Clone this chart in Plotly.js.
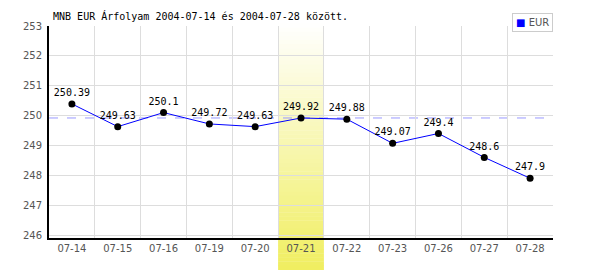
<!DOCTYPE html>
<html><head><meta charset="utf-8">
<script src="https://cdn.plot.ly/plotly-3.0.1.min.js"></script>
<style>html,body{margin:0;padding:0;background:#fff}#chart{width:600px;height:270px}</style>
</head><body><div id="chart"></div>
<script>
const dates = ['07-14','07-15','07-16','07-19','07-20','07-21','07-22','07-23','07-26','07-27','07-28'];
const eur = [250.39, 249.63, 250.1, 249.72, 249.63, 249.92, 249.88, 249.07, 249.4, 248.6, 247.9];
const labels = ['250.39','249.63','250.1','249.72','249.63','249.92','249.88','249.07','249.4','248.6','247.9'];
const highlightDate = '07-21';
const seriesName = 'EUR';
const titleText = 'MNB EUR Árfolyam 2004-07-14 és 2004-07-28 között.';

const hi = dates.indexOf(highlightDate);
const W = 600, H = 270, mL = 49, mR = 47, mT = 26, mB = 32;
const plotH = H - mT - mB;
// gradient band (white -> yellow), built from strips
const shapes = [];
const topPix = 24, botPix = 270, N = 60;
const c0 = [255,255,255], c1 = [240,238,96];
for (let i = 0; i < N; i++) {
  const p0 = topPix + (botPix - topPix) * i / N;
  const p1 = topPix + (botPix - topPix) * (i + 1) / N;
  const f = (i + 0.5) / N;
  const col = 'rgb(' + c0.map((v, k) => Math.round(v + (c1[k] - v) * f)).join(',') + ')';
  const y0 = (H - mB - p1) / plotH, y1 = (H - mB - p0) / plotH;
  const inside = y1 > 0;
  shapes.push({type:'rect', xref:'x', yref:'paper', x0: hi - 0.5, x1: hi + 0.5,
    y0: y0, y1: y1 + 0.002, fillcolor: col, line:{width:0},
    layer: inside ? 'between' : 'below'});
}
shapes.push({type:'line', xref:'paper', yref:'y', x0:0, x1:1, y0:eur[hi], y1:eur[hi],
  line:{color:'#9999ff', width:1, dash:'dash'}, layer:'between'});

const data = [
  {x: dates, y: eur, type:'scatter', mode:'lines+markers+text', text: labels, name: seriesName,
   textposition:'top center', textfont:{family:'DejaVu Sans Mono', size:10, color:'#000'},
   line:{color:'#0000ff', width:1}, marker:{color:'#000', size:7}, showlegend:false,
   hoverinfo:'skip', cliponaxis:false}
];

const layout = {
  width: W, height: H,
  margin:{l:mL, r:mR, t:mT, b:mB, pad:0},
  paper_bgcolor:'#fff', plot_bgcolor:'rgba(0,0,0,0)',
  title:{text: titleText, font:{family:'DejaVu Sans Mono', size:10, color:'#000'},
    xref:'paper', x:0.008, xanchor:'left', yref:'container', y:1-16/270, yanchor:'middle'},
  xaxis:{type:'category', tickson:'boundaries', showgrid:true, gridcolor:'#dddddd', gridwidth:1,
    showline:true, linecolor:'#000', linewidth:1.5, ticks:'', range:[-0.5, 10.5],
    tickfont:{family:'DejaVu Sans', size:10, color:'#555'}, zeroline:false, fixedrange:true},
  yaxis:{range:[245.9, 253], dtick:1, tick0:246, showgrid:true, gridcolor:'#dddddd', gridwidth:1,
    showline:true, linecolor:'#000', linewidth:2, ticks:'outside', ticklen:3, tickcolor:'rgba(0,0,0,0)',
    tickfont:{family:'DejaVu Sans', size:10, color:'#555'}, zeroline:false, fixedrange:true},
  shapes: shapes,
  showlegend:false,
  annotations:[{xref:'paper', yref:'paper', x:1, xanchor:'right', y:(H-mB-13)/plotH, yanchor:'top',
    text:'<span style="color:#0000ff">■</span> ' + seriesName, showarrow:false, align:'left',
    font:{family:'DejaVu Sans', size:10, color:'#555'}, bgcolor:'#fff',
    bordercolor:'#cccccc', borderwidth:1, borderpad:3}]
};
Plotly.newPlot('chart', data, layout, {displayModeBar:false, staticPlot:true});
</script></body></html>
